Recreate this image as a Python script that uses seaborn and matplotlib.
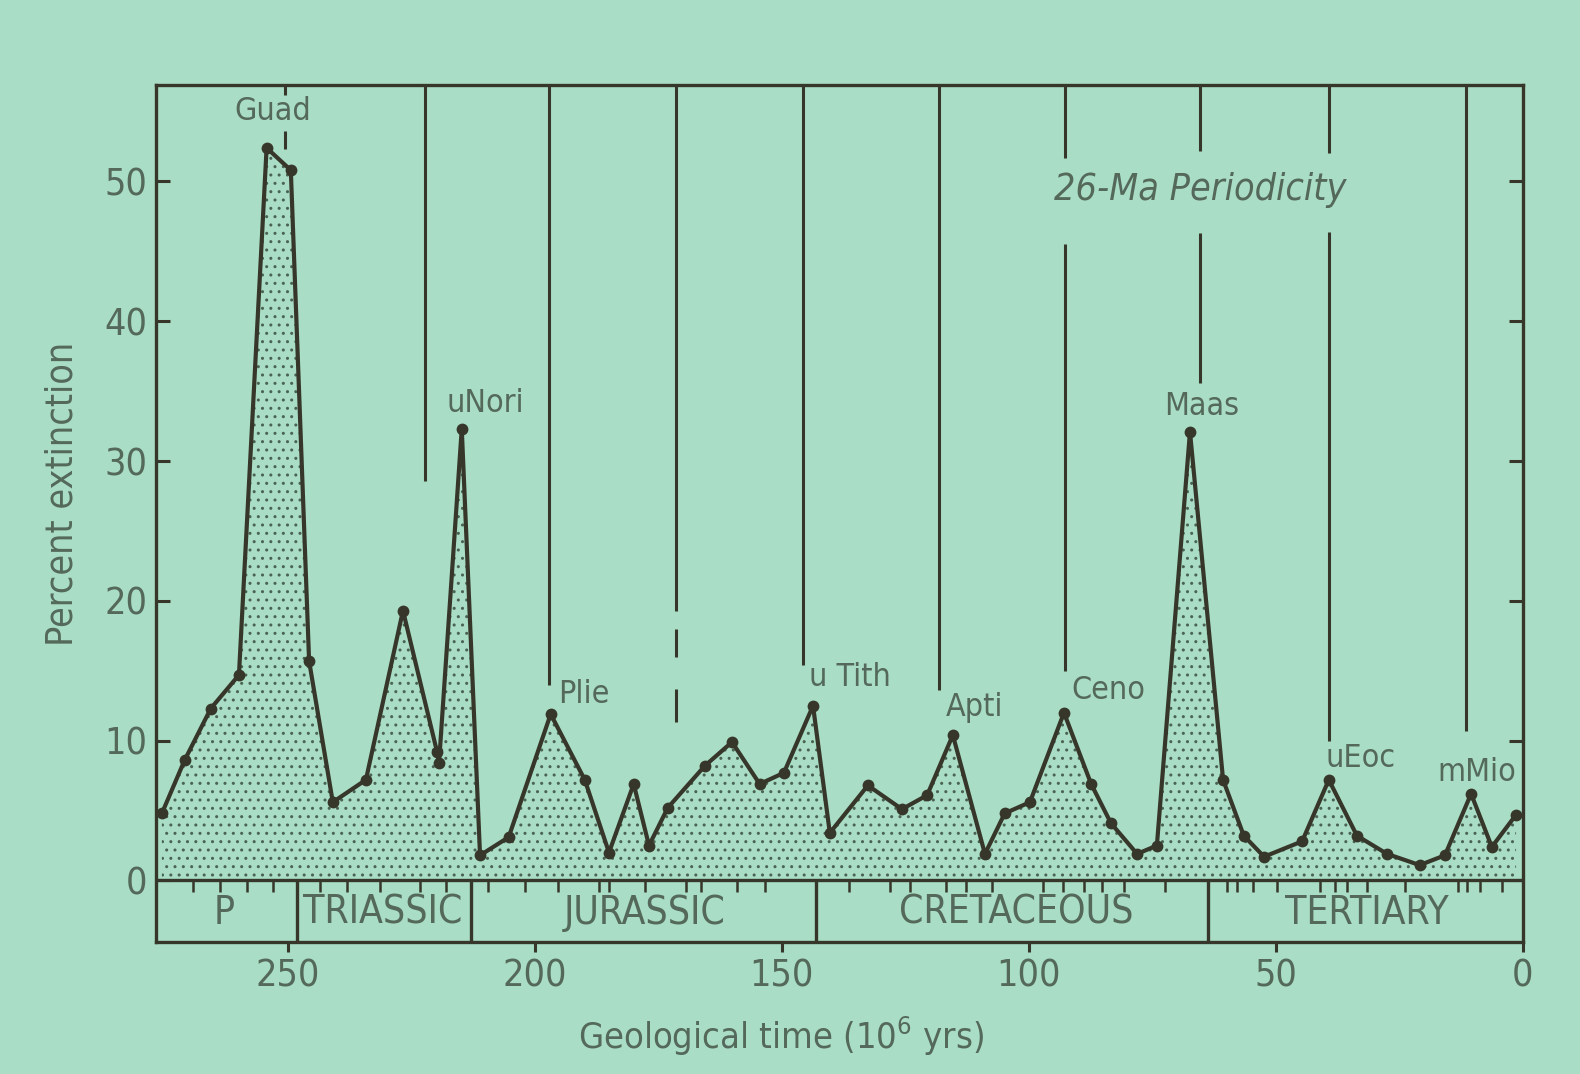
import matplotlib
matplotlib.use("Agg")
import matplotlib.pyplot as plt
import seaborn as sns

# extinction record (age in Ma, percent extinction)
ages = [275.5, 270.9, 265.6, 259.9, 254.3, 249.4, 245.7, 240.9, 234.2, 226.7,
        219.8, 219.4, 214.8, 211.1, 205.3, 196.8, 189.9, 185.0, 180.0, 176.9,
        173.1, 165.6, 160.1, 154.5, 149.6, 143.7, 140.3, 132.6, 125.7, 120.6,
        115.4, 108.9, 104.9, 99.8, 92.9, 87.4, 83.4, 78.1, 74.1, 67.4,
        60.7, 56.5, 52.4, 44.7, 39.3, 33.6, 27.5, 20.9, 15.8, 10.5,
        6.3, 1.4]
extinction = [4.8, 8.6, 12.3, 14.7, 52.4, 50.8, 15.7, 5.6, 7.2, 19.3,
              9.2, 8.4, 32.3, 1.8, 3.1, 11.9, 7.2, 2.0, 6.9, 2.5,
              5.2, 8.2, 9.9, 6.9, 7.7, 12.5, 3.4, 6.8, 5.1, 6.1,
              10.4, 1.9, 4.8, 5.6, 12.0, 6.9, 4.1, 1.9, 2.5, 32.1,
              7.2, 3.2, 1.7, 2.8, 7.2, 3.2, 1.9, 1.1, 1.8, 6.2,
              2.4, 4.7]

# named extinction peaks
peak_names = ["Guad", "uNori", "Plie", "u Tith", "Apti", "Ceno", "Maas", "uEoc", "mMio"]
peak_label_ages = [253.0, 210.1, 190.1, 136.2, 111.1, 84.0, 65.0, 32.8, 9.3]
peak_label_levels = [55.0, 34.1, 13.3, 14.5, 12.4, 13.6, 33.9, 8.7, 7.7]

# 26 Ma periodicity lines: age, lower end, upper end (broken where labels sit)
cycle_ages = [250.6, 250.6, 222.3, 197.2, 171.5, 171.5, 171.5, 145.7, 118.2,
              92.7, 92.7, 65.4, 65.4, 39.3, 39.3, 11.5]
cycle_lows = [52.3, 56.2, 28.6, 14.0, 19.3, 16.0, 11.3, 15.4, 13.6,
              15.0, 51.7, 35.6, 52.2, 10.0, 52.0, 10.7]
cycle_highs = [53.6, 60, 60, 60, 60, 18.0, 13.7, 60, 60,
               45.5, 60, 46.3, 60, 46.4, 60, 60]

# geological periods strip
period_names = ["P", "TRIASSIC", "JURASSIC", "CRETACEOUS", "TERTIARY"]
period_label_ages = [262.8, 230.8, 177.7, 102.6, 31.6]
period_bounds = [248.2, 213.0, 143.1, 63.8]
stage_ticks = [269.2, 263.8, 258.3, 253.0, 243.5, 238.1, 231.4, 223.3, 218.0,
               209.5, 202.0, 195.3, 187.0, 185.0, 177.7, 169.4, 166.4, 159.1,
               153.4, 136.4, 128.1, 124.1, 116.8, 112.8, 107.5, 97.2, 93.1,
               88.9, 85.2, 80.8, 72.5, 59.9, 57.9, 54.7, 49.8, 41.1, 38.1,
               35.6, 31.6, 23.9, 13.2, 11.3, 8.7, 4.3]

x_ticks = [250, 200, 150, 100, 50, 0]
y_ticks = [0, 10, 20, 30, 40, 50]

bg = "#a9ddc5"
ink = "#36372a"
txt = "#54695a"

sns.set_theme(style="ticks")
plt.rcParams["font.family"] = ["DejaVu Sans"]
plt.rcParams["font.stretch"] = "condensed"
plt.rcParams["mathtext.default"] = "regular"
plt.rcParams["hatch.linewidth"] = 1.0

fig = plt.figure(figsize=(15.8, 10.74), dpi=100, facecolor=bg)
ax = fig.add_axes([0.0987, 0.1229, 0.8652, 0.798])
ax.set_facecolor(bg)

ax.fill_between(ages, extinction, 0, facecolor=bg, edgecolor="#4b6353",
                hatch="..", linewidth=0, zorder=1)
sns.lineplot(x=ages, y=extinction, ax=ax, color=ink, linewidth=3,
             marker="o", markersize=8.5, markeredgewidth=0,
             estimator=None, zorder=3)

ax.vlines(cycle_ages, cycle_lows, cycle_highs, color=ink, linewidth=2.2)

for name, a, lv in zip(peak_names, peak_label_ages, peak_label_levels):
    ax.text(a, lv, name, ha="center", va="center", fontsize=23, color=txt)

ax.text(65.4, 49.4, "26-Ma Periodicity", ha="center", va="center",
        fontsize=27, style="italic", color=txt)

# period strip under the zero line
ax.axhline(0, color=ink, linewidth=2.4, zorder=4)
ax.vlines(period_bounds, -5, 0, color=ink, linewidth=2.4)
ax.vlines(stage_ticks, -0.8, 0, color=ink, linewidth=1.8)
for name, a in zip(period_names, period_label_ages):
    ax.text(a, -2.3, name, ha="center", va="center", fontsize=28, color=txt)

ax.set_xlim(276.7, 0)
ax.set_ylim(-4.4, 56.9)
ax.set_xticks(x_ticks)
ax.set_yticks(y_ticks)

for side in ["left", "right", "top", "bottom"]:
    ax.spines[side].set_visible(True)
    ax.spines[side].set_color(ink)
    ax.spines[side].set_linewidth(2.4)

ax.tick_params(axis="y", direction="in", length=10, width=2.2, left=True, right=True,
               labelsize=27, pad=6, color=ink, labelcolor=txt)
ax.tick_params(axis="x", direction="out", length=7, width=2.2, labelsize=27,
               pad=5, color=ink, labelcolor=txt)

ax.set_ylabel("Percent extinction", fontsize=27, color=txt, va="center")
ax.yaxis.set_label_coords(-0.068, 0.523)
ax.set_xlabel("Geological time (10$^{6}$ yrs)", fontsize=26, color=txt, va="center")
ax.xaxis.set_label_coords(0.457, -0.110)

fig.savefig("out.png", dpi=100, facecolor=bg)
